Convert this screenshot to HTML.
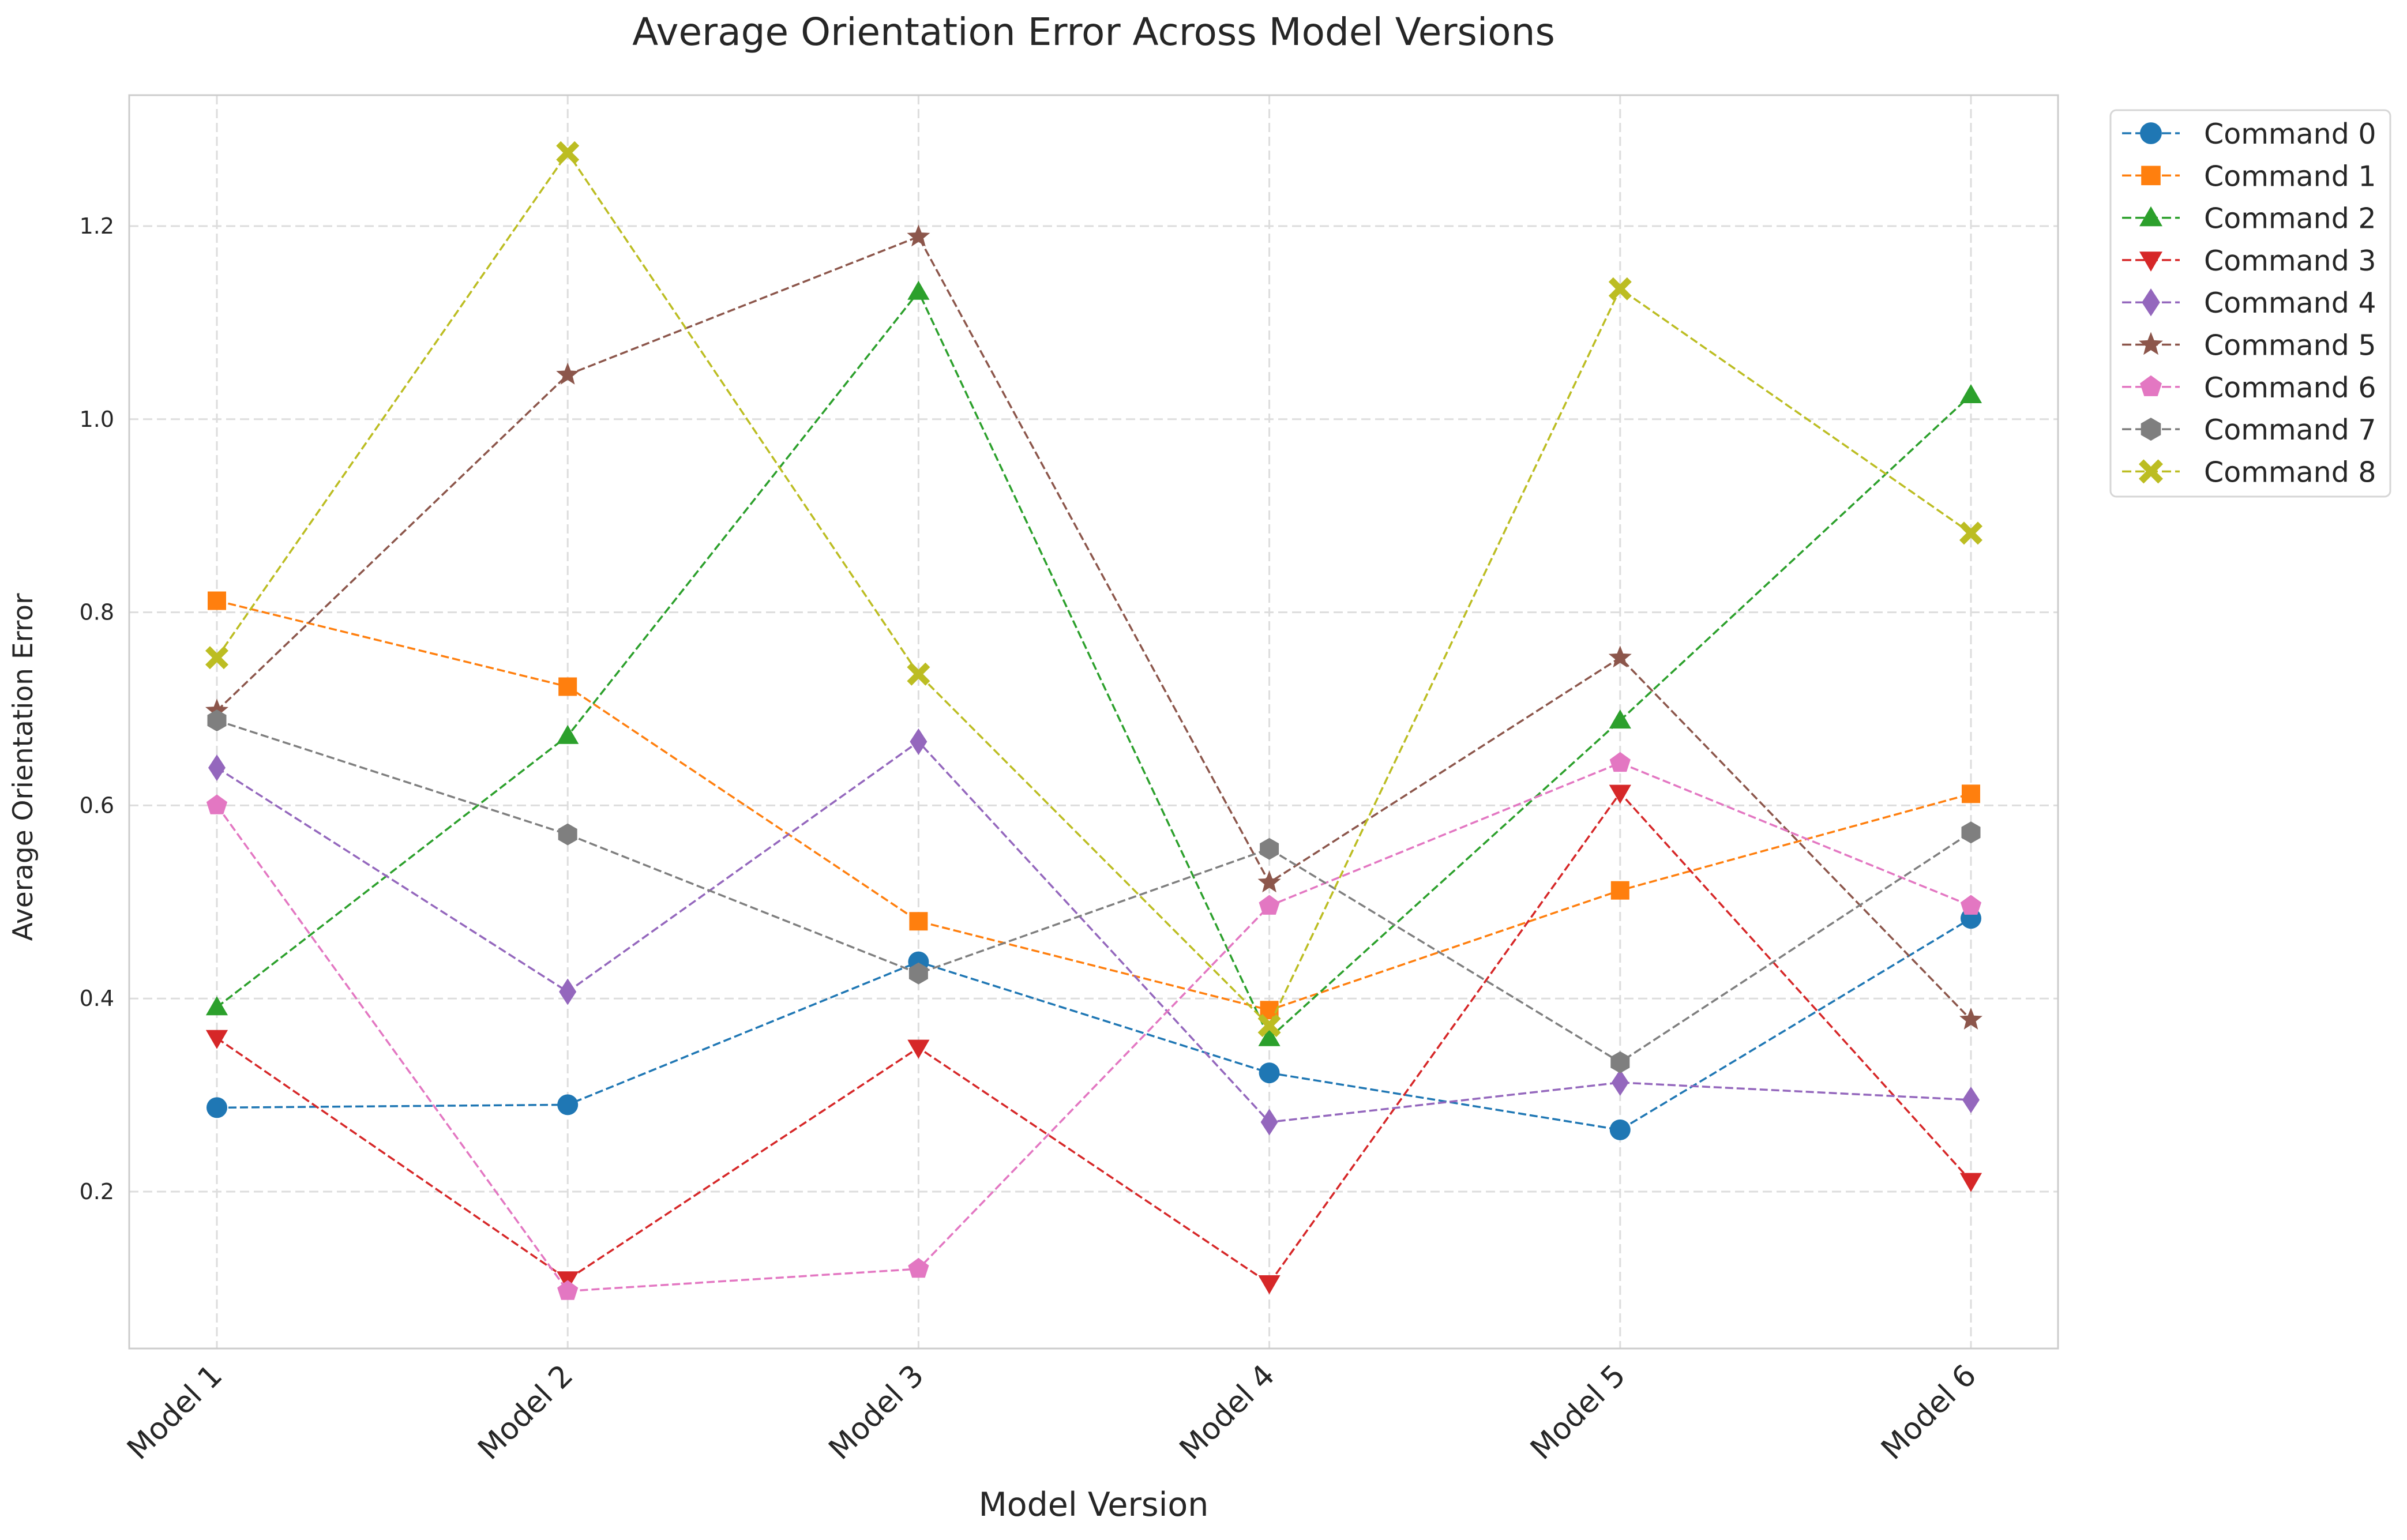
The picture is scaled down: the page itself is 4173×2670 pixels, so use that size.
<!DOCTYPE html>
<html><head><meta charset="utf-8"><style>
html,body{margin:0;padding:0;background:#fff}
svg{display:block;font-family:"DejaVu Sans","Liberation Sans",sans-serif}
</style></head><body>
<svg id="chart" width="4173" height="2670" viewBox="0 0 4173 2670" xmlns="http://www.w3.org/2000/svg">
<rect x="0" y="0" width="4173" height="2670" fill="#fff"/>
<text x="1896" y="78" font-size="66" text-anchor="middle" fill="#262626">Average Orientation Error Across Model Versions</text>
<g id="grid"></g>
<g id="ticks"></g>
<rect x="224" y="165" width="3344" height="2173" fill="none" stroke="#cccccc" stroke-width="3"/>
<g id="series"></g>
<text x="1896" y="2628" font-size="57" text-anchor="middle" fill="#262626">Model Version</text>
<text x="0" y="0" font-size="47" text-anchor="middle" fill="#262626" transform="translate(56,1330) rotate(-90)">Average Orientation Error</text>
<g id="legend">
<rect x="3659" y="191" width="485" height="670" rx="10" fill="#fff" stroke="#d6d6d6" stroke-width="3"/>
</g>
</svg>
<script>
const categories = ["Model 1","Model 2","Model 3","Model 4","Model 5","Model 6"];
const seriesNames = ["Command 0","Command 1","Command 2","Command 3","Command 4","Command 5","Command 6","Command 7","Command 8"];
const cmd0 = [0.287,0.290,0.438,0.323,0.264,0.483];
const cmd1 = [0.812,0.723,0.480,0.388,0.512,0.612];
const cmd2 = [0.391,0.672,1.132,0.359,0.688,1.025];
const cmd3 = [0.359,0.109,0.349,0.105,0.613,0.211];
const cmd4 = [0.639,0.407,0.666,0.272,0.313,0.295];
const cmd5 = [0.698,1.046,1.189,0.520,0.753,0.378];
const cmd6 = [0.600,0.097,0.120,0.496,0.644,0.496];
const cmd7 = [0.688,0.570,0.426,0.555,0.334,0.572];
const cmd8 = [0.753,1.276,0.736,0.372,1.135,0.882];
const yTicks = [0.2,0.4,0.6,0.8,1.0,1.2];
const yTickLabels = ["0.2","0.4","0.6","0.8","1.0","1.2"];

const allSeries=[cmd0,cmd1,cmd2,cmd3,cmd4,cmd5,cmd6,cmd7,cmd8];
const colors=["#1f77b4","#ff7f0e","#2ca02c","#d62728","#9467bd","#8c564b","#e377c2","#7f7f7f","#bcbd22"];
const markers=["circle","square","tri-up","tri-down","diamond","star","pentagon","hexagon","x"];
const NS="http://www.w3.org/2000/svg";
const X0=376,DX=608.2,PL=224,PR=3568,PT=165,PB=2338;
function xs(i){return X0+i*DX;}
function ys(v){return 2066-(v-0.2)*1674;}
function mk(tag,attrs,parent){const e=document.createElementNS(NS,tag);for(const k in attrs)e.setAttribute(k,attrs[k]);parent.appendChild(e);return e;}
function poly(cx,cy,n,r,rot){let p=[];for(let k=0;k<n;k++){const a=rot+k*2*Math.PI/n;p.push((cx+r*Math.cos(a)).toFixed(1)+","+(cy+r*Math.sin(a)).toFixed(1));}return p.join(" ");}
function marker(type,cx,cy,col,parent,s){
  s=s||1;let e;
  if(type==="circle")e=mk("circle",{cx:cx,cy:cy,r:18*s,fill:col},parent);
  else if(type==="square")e=mk("rect",{x:cx-16*s,y:cy-16*s,width:32*s,height:32*s,fill:col},parent);
  else if(type==="tri-up")e=mk("polygon",{points:poly(cx,cy+3*s,3,22*s,-Math.PI/2),fill:col},parent);
  else if(type==="tri-down")e=mk("polygon",{points:poly(cx,cy-3*s,3,22*s,Math.PI/2),fill:col},parent);
  else if(type==="diamond")e=mk("polygon",{points:`${cx},${cy-23*s} ${cx+15*s},${cy} ${cx},${cy+23*s} ${cx-15*s},${cy}`,fill:col},parent);
  else if(type==="star"){let p=[];for(let k=0;k<10;k++){const a=-Math.PI/2+k*Math.PI/5;const rr=(k%2?9:21)*s;p.push((cx+rr*Math.cos(a)).toFixed(1)+","+(cy+rr*Math.sin(a)).toFixed(1));}e=mk("polygon",{points:p.join(" "),fill:col},parent);}
  else if(type==="pentagon")e=mk("polygon",{points:poly(cx,cy,5,19*s,-Math.PI/2),fill:col},parent);
  else if(type==="hexagon")e=mk("polygon",{points:poly(cx,cy,6,19*s,-Math.PI/2),fill:col},parent);
  else {const a=12*s,b=8*s,c=20*s;e=mk("path",{d:`M${cx-a},${cy-c} L${cx},${cy-b} L${cx+a},${cy-c} L${cx+c},${cy-a} L${cx+b},${cy} L${cx+c},${cy+a} L${cx+a},${cy+c} L${cx},${cy+b} L${cx-a},${cy+c} L${cx-c},${cy+a} L${cx-b},${cy} L${cx-c},${cy-a} Z`,fill:col},parent);}
  return e;
}
const grid=document.getElementById("grid"),ticks=document.getElementById("ticks");
yTicks.forEach((v,i)=>{
  const l=mk("line",{x1:PL,x2:PR,y1:ys(v),y2:ys(v),stroke:"#dddddd","stroke-width":3,"stroke-dasharray":"16,8"},grid);
  
  
  const t=mk("text",{x:198,y:ys(v)+13,"font-size":38,"text-anchor":"end",fill:"#262626"},ticks);
  t.textContent=yTickLabels[i];
  
  
});
categories.forEach((c,i)=>{
  const l=mk("line",{x1:xs(i),x2:xs(i),y1:PT,y2:PB,stroke:"#dddddd","stroke-width":3,"stroke-dasharray":"16,8"},grid);
  
  
  const t=mk("text",{x:0,y:0,"font-size":52,"text-anchor":"end",fill:"#262626",transform:`translate(${xs(i)+12},${PB+50}) rotate(-45)`},ticks);
  t.textContent=c;
  
  
});
const sg=document.getElementById("series");
allSeries.forEach((vals,s)=>{
  const g=mk("g",{},sg);
  
  
  const pl=mk("polyline",{points:vals.map((v,i)=>xs(i)+","+ys(v)).join(" "),fill:"none",stroke:colors[s],"stroke-width":3.5,"stroke-dasharray":"14,6"},g);
  
  
  vals.forEach((v,i)=>{
    const m=marker(markers[s],xs(i),ys(v),colors[s],g);
    
    
  });
});
const lg=document.getElementById("legend");
seriesNames.forEach((n,s)=>{
  const y=231+s*73.3;
  const g=mk("g",{},lg);
  
  
  mk("line",{x1:3679,x2:3779,y1:y,y2:y,stroke:colors[s],"stroke-width":3.5,"stroke-dasharray":"16,7"},g);
  marker(markers[s],3729,y,colors[s],g,1.05);
  const t=mk("text",{x:3821,y:y+18,"font-size":49,fill:"#262626"},g);
  t.textContent=n;
});
</script>
</body></html>
